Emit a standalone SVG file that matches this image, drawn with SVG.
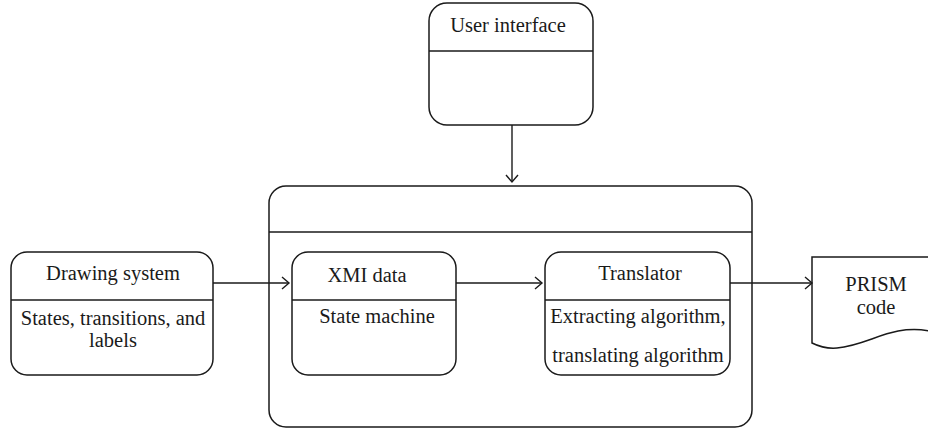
<svg xmlns="http://www.w3.org/2000/svg" width="928" height="435" viewBox="0 0 928 435">
  <style>
    .box { fill: #fff; stroke: #1a1a1a; stroke-width: 1.5; }
    .div { stroke: #1a1a1a; stroke-width: 1.5; fill: none; }
    .edge { stroke: #1a1a1a; stroke-width: 1.4; fill: none; marker-end: url(#open); }
    .lbl { font-family: 'Liberation Serif', 'Times New Roman', serif; font-size: 20.5px; fill: #1a1a1a; text-anchor: middle; }
  </style>
  <defs>
    <marker id="open" markerWidth="12" markerHeight="14" refX="9" refY="7" orient="auto" markerUnits="userSpaceOnUse">
      <path d="M2,1 L9,7 L2,13" fill="none" stroke="#1a1a1a" stroke-width="1.4"/>
    </marker>
  </defs>

  <rect width="928" height="435" fill="#fff"/>

  <!-- outer container with empty header band -->
  <g id="container">
    <rect class="box" x="269" y="186" width="483" height="241" rx="17"/>
    <line class="div" x1="269" y1="232" x2="752" y2="232"/>
  </g>

  <g id="user-interface" class="lbl">
    <rect class="box" x="429" y="3" width="164" height="122" rx="18"/>
    <line class="div" x1="429" y1="51" x2="593" y2="51"/>
    <text x="508" y="32">User interface</text>
  </g>

  <g id="drawing-system" class="lbl">
    <rect class="box" x="11" y="252" width="202" height="123" rx="16"/>
    <line class="div" x1="11" y1="300" x2="213" y2="300"/>
    <text x="113" y="280">Drawing system</text>
    <text x="113" y="325">States, transitions, and</text>
    <text x="113" y="347">labels</text>
  </g>

  <g id="xmi-data" class="lbl">
    <rect class="box" x="292" y="252" width="164" height="123" rx="16"/>
    <line class="div" x1="292" y1="300" x2="456" y2="300"/>
    <text x="367" y="282">XMI data</text>
    <text x="377" y="323">State machine</text>
  </g>

  <g id="translator" class="lbl">
    <rect class="box" x="545" y="252" width="185" height="123" rx="16"/>
    <line class="div" x1="545" y1="300" x2="730" y2="300"/>
    <text x="640" y="280">Translator</text>
    <text x="638" y="323">Extracting algorithm,</text>
    <text x="638" y="362">translating algorithm</text>
  </g>

  <!-- document shape with wavy lower edge, running off the right side -->
  <g id="prism-code" class="lbl">
    <path class="box" d="M812,257 L930,257 L930,331 C890,324 870,345 837,348 C825,349 818,346 812,343 Z"/>
    <text x="876" y="291">PRISM</text>
    <text x="876" y="314">code</text>
  </g>

  <g id="connectors">
    <line class="edge" x1="512" y1="125" x2="512" y2="182"/>
    <line class="edge" x1="213" y1="283" x2="289" y2="283"/>
    <line class="edge" x1="456" y1="283" x2="542" y2="283"/>
    <line class="edge" x1="730" y1="283" x2="812" y2="283"/>
  </g>
</svg>
